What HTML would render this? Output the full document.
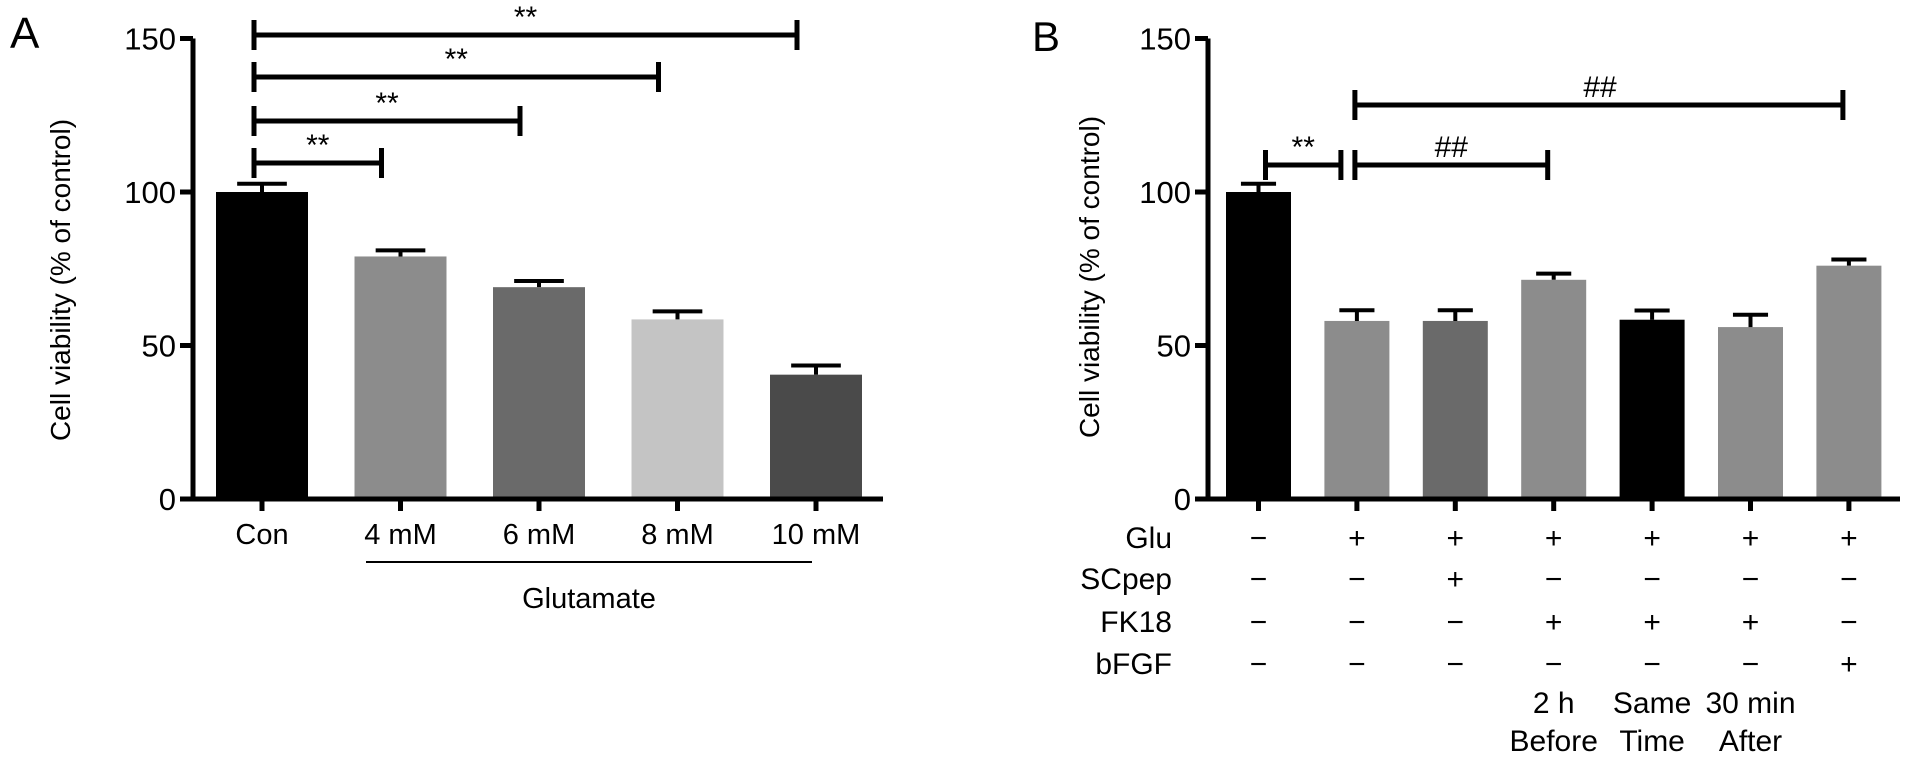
<!DOCTYPE html>
<html><head><meta charset="utf-8"><style>
html,body{margin:0;padding:0;background:#fff;}
svg{display:block;font-family:"Liberation Sans",Arial,sans-serif;}
</style></head><body>
<svg id="fig" width="1913" height="764" viewBox="0 0 1913 764">
<text x="10" y="48" font-size="44">A</text>
<text x="1032" y="51" font-size="42">B</text>
<text transform="translate(70,280) rotate(-90)" text-anchor="middle" font-size="28">Cell viability (% of control)</text>
<text transform="translate(1099,277) rotate(-90)" text-anchor="middle" font-size="28">Cell viability (% of control)</text>
<line x1="366" y1="562" x2="812" y2="562" stroke="#000" stroke-width="2"/>
<text x="589" y="608" text-anchor="middle" font-size="29">Glutamate</text>
</svg>
<script>
const aCategories = ["Con","4 mM","6 mM","8 mM","10 mM"];
const aValues = [100, 79, 69, 58.5, 40.5];
const aErrors = [2.7, 2, 2, 2.6, 3];
const aColors = ["#000","#8c8c8c","#6a6a6a","#c4c4c4","#4a4a4a"];
const bValues = [100, 58, 58, 71.4, 58.4, 56, 76];
const bErrors = [2.7, 3.5, 3.5, 2, 3, 4, 2];
const bColors = ["#000","#8c8c8c","#6a6a6a","#8c8c8c","#000","#8c8c8c","#8c8c8c"];
const bRowLabels = ["Glu","SCpep","FK18","bFGF"];
const bRows = [["−","+","+","+","+","+","+"],["−","−","+","−","−","−","−"],["−","−","−","+","+","+","−"],["−","−","−","−","−","−","+"]];
const bTiming = [["",""],["",""],["",""],["2 h","Before"],["Same","Time"],["30 min","After"],["",""]];
const yTicks = [0,50,100,150];
const aBrackets = [[0,1,"**"],[0,2,"**"],[0,3,"**"],[0,4,"**"]];
const bBrackets = [[0,1,"**",0],[1,3,"##",0],[1,6,"##",1]];

const svg = document.getElementById('fig');
const NS = 'http://www.w3.org/2000/svg';
function mk(tag, attrs, txt){const e=document.createElementNS(NS,tag);for(const k in attrs)e.setAttribute(k,attrs[k]);if(txt!==undefined)e.textContent=txt;svg.appendChild(e);return e;}
const y = v => 499 - v*(460.5/150);

function panel(axX, axEnd, barLeft0, step, bw, vals, errs, cols, pfx){
  const cx = i => barLeft0 + step*i + bw/2;
  vals.forEach((v,i)=>{
    const r = mk('rect',{x:barLeft0+step*i,y:y(v),width:bw,height:y(0)-y(v),fill:cols[i]});
    
    
    const e = mk('path',{d:`M${cx(i)} ${y(v)}V${y(v+errs[i])}M${cx(i)-bw*0.27} ${y(v+errs[i])}H${cx(i)+bw*0.27}`,stroke:'#000','stroke-width':4,fill:'none'});
    
    
    const t = mk('line',{x1:cx(i),y1:y(0),x2:cx(i),y2:y(0)+12,stroke:'#000','stroke-width':5});
    
    
  });
  const ax = mk('path',{d:`M${axX} ${y(150)}V${y(0)}H${axEnd}`,stroke:'#000','stroke-width':5,fill:'none'});
  
  
  yTicks.forEach(t=>{
    const l = mk('line',{x1:axX-13,y1:y(t),x2:axX,y2:y(t),stroke:'#000','stroke-width':5});
    
    
    const tx = mk('text',{x:axX-17,y:y(t)+11,'text-anchor':'end','font-size':31},String(t));
    
    
  });
  return cx;
}
function bracket(x1,x2,yy,label,tx,pfx){
  const g = mk('path',{d:`M${x1} ${yy-15}V${yy+15}M${x1} ${yy}H${x2}M${x2} ${yy-15}V${yy+15}`,stroke:'#000','stroke-width':5,fill:'none'});
  
  
  const t = mk('text',{x:tx,y:yy-8,'text-anchor':'middle','font-size':30},label);
  
  
}

// Panel A
const acx = panel(193, 883, 216, 138.5, 92, aValues, aErrors, aColors, 'panel-a');
aCategories.forEach((c,i)=>{
  const t = mk('text',{x:acx(i),y:544,'text-anchor':'middle','font-size':29},c);
  
  
});
const aLevels=[163,121,77,35];
aBrackets.forEach((b,k)=>{
  const x1=254, x2=acx(b[1])-19;
  bracket(x1,x2,aLevels[k],b[2],(x1+x2)/2,'panel-a');
});

// Panel B
const bcx = panel(1208, 1900, 1226, 98.4, 65, bValues, bErrors, bColors, 'panel-b');
const rowY=[548,589,632,674];
bRowLabels.forEach((r,k)=>{
  const t = mk('text',{x:1172,y:rowY[k],'text-anchor':'end','font-size':30},r);
  
  
  bRows[k].forEach((s,i)=>{
    const c = mk('text',{x:bcx(i),y:rowY[k],'text-anchor':'middle','font-size':30},s);
    
    
  });
});
bTiming.forEach((tt,i)=>{
  tt.forEach((s,j)=>{
    if(!s) return;
    const t = mk('text',{x:bcx(i),y:713+j*38,'text-anchor':'middle','font-size':30},s);
    
    
  });
});
const bLevels=[165,105];
bBrackets.forEach(b=>{
  const x1 = b[0]===0 ? bcx(0)+7 : bcx(b[0])-2;
  const x2 = b[1]===1 ? bcx(1)-16 : bcx(b[1])-6;
  const tx = b[3]===1 ? 1600 : (x1+x2)/2;
  bracket(x1,x2,bLevels[b[3]],b[2],tx,'panel-b');
});
</script>
</body></html>
